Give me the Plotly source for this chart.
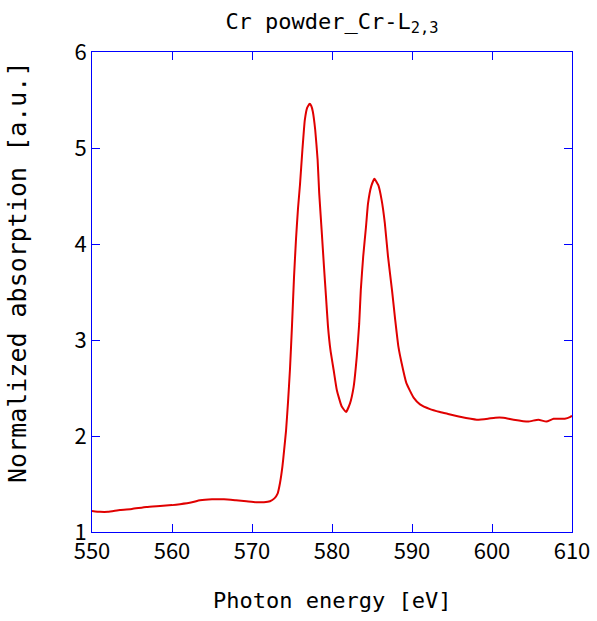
import plotly.graph_objects as go

energy = [550.0, 551.0, 552.0, 553.5, 555.0, 556.8, 558.5, 560.0, 561.0, 562.5,
          563.5, 565.0, 566.5, 568.0, 569.3, 570.5, 571.5, 572.25, 572.8, 573.2,
          573.5, 573.8, 574.0, 574.25, 574.5, 574.75, 575.0, 575.25, 575.5, 575.75,
          576.0, 576.3, 576.6, 576.9, 577.2, 577.4, 577.6, 577.9, 578.2, 578.4,
          578.7, 579.0, 579.25, 579.5, 579.8, 580.2, 580.6, 581.2, 581.75, 582.25,
          582.7, 583.1, 583.4, 583.6, 583.9, 584.25, 584.5, 584.9, 585.3, 585.8,
          586.2, 586.6, 587.0, 587.5, 587.9, 588.3, 588.7, 589.3, 590.2, 591.0,
          592.25, 593.5, 594.5, 596.0, 598.1, 599.5, 600.4, 601.4, 602.7, 604.5,
          605.8, 606.8, 607.7, 609.1, 609.8, 610.0]
absorption = [1.22, 1.21, 1.21, 1.23, 1.24, 1.26, 1.27, 1.28, 1.29, 1.31,
              1.33, 1.34, 1.34, 1.33, 1.32, 1.31, 1.31, 1.32, 1.35, 1.40,
              1.51, 1.68, 1.84, 2.05, 2.35, 2.70, 3.15, 3.65, 4.05, 4.37,
              4.62, 4.98, 5.29, 5.42, 5.46, 5.44, 5.38, 5.19, 4.88, 4.53,
              4.15, 3.76, 3.45, 3.14, 2.90, 2.69, 2.48, 2.31, 2.25, 2.34,
              2.51, 2.83, 3.17, 3.52, 3.87, 4.18, 4.42, 4.60, 4.68, 4.61,
              4.46, 4.22, 3.87, 3.52, 3.21, 2.93, 2.76, 2.55, 2.40, 2.33,
              2.28, 2.25, 2.23, 2.20, 2.17, 2.18, 2.19, 2.19, 2.17, 2.15,
              2.17, 2.15, 2.18, 2.18, 2.20, 2.21]

x_ticks = [550, 560, 570, 580, 590, 600, 610]
y_ticks = [1, 2, 3, 4, 5, 6]

title_text = "Cr powder_Cr-L<sub>2,3</sub>"
x_title = "Photon energy [eV]"
y_title = "Normalized absorption [a.u.]"

FONT = "DejaVu Sans Mono"
TICK_FONT = "Noto Sans CJK JP"
AXIS_COLOR = "#0000ff"

fig = go.Figure()
fig.add_trace(go.Scatter(x=energy, y=absorption, mode="lines",
                         line=dict(color="#e00000", width=2, shape="spline", smoothing=0.4),
                         showlegend=False, hoverinfo="skip"))

axis_common = dict(showgrid=False, zeroline=False, showline=True, linecolor=AXIS_COLOR,
                   linewidth=1, mirror="ticks", ticks="inside", ticklen=8,
                   tickcolor=AXIS_COLOR, tickwidth=1, automargin=False,
                   tickfont=dict(family=TICK_FONT, size=22, color="black"))

fig.update_xaxes(range=[550, 610], tickvals=x_ticks, ticktext=[str(v) for v in x_ticks],
                 ticklabelstandoff=0, **axis_common)
fig.update_yaxes(range=[1, 6], tickvals=y_ticks, ticktext=[str(v) for v in y_ticks], **axis_common)

fig.update_layout(
    width=597, height=621, autosize=False,
    margin=dict(l=92, r=25, t=52, b=89),
    paper_bgcolor="white", plot_bgcolor="white",
    title=dict(text=title_text, x=0.5, xref="paper", xanchor="center",
               y=1 - 21 / 621, yref="container", yanchor="middle",
               font=dict(family=FONT, size=22, color="black")),
    annotations=[
        dict(text=x_title, xref="paper", yref="paper", x=0.5, y=-68 / 480,
             xanchor="center", yanchor="middle", showarrow=False,
             font=dict(family=FONT, size=22, color="black")),
        dict(text=y_title, xref="paper", yref="paper", x=-75 / 480, y=259 / 480,
             xanchor="center", yanchor="middle", showarrow=False, textangle=-90,
             font=dict(family=FONT, size=25, color="black")),
    ],
)

fig.write_html("out.html",
               config={"displayModeBar": False, "responsive": False},
               post_script="document.body.style.margin='0';document.body.style.padding='0';document.body.style.overflow='hidden';")
